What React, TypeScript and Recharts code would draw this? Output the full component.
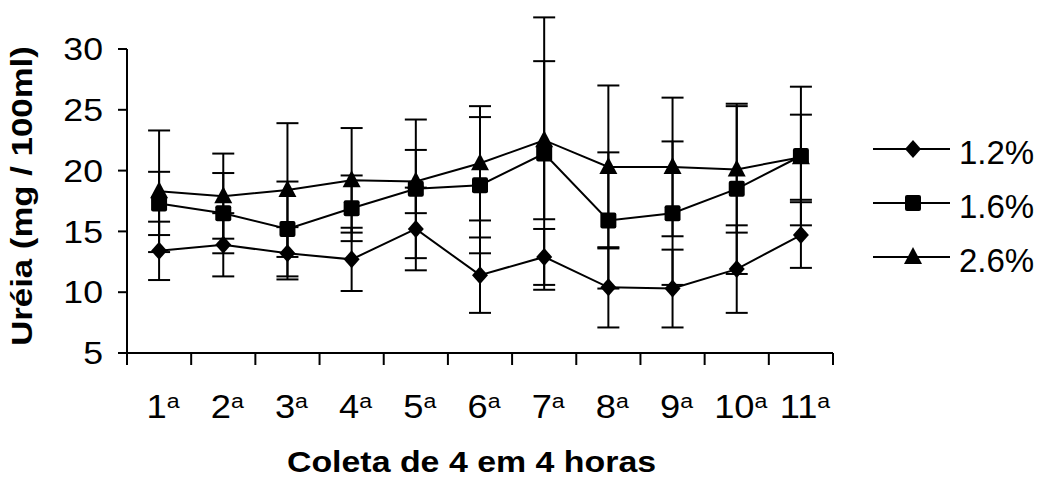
import { LineChart, Line, XAxis, YAxis, ErrorBar, Legend } from "recharts";

const FONT = '"Liberation Sans", Arial, sans-serif';

// coleta (ordinal, drawn as 1ª, 2ª ...)
const CATEGORIES = ["1", "2", "3", "4", "5", "6", "7", "8", "9", "10", "11"];
const POSITIONS = [1, 2, 3, 4, 5, 6, 7, 8, 9, 10, 11];
const X_BOUNDS = [0.5, 1.5, 2.5, 3.5, 4.5, 5.5, 6.5, 7.5, 8.5, 9.5, 10.5, 11.5];
const Y_TICKS = [5, 10, 15, 20, 25, 30];

const SERIES_NAMES = ["1.2%", "1.6%", "2.6%"];
const SHAPES = ["diamond", "square", "triangle"];

// ureia mg/100ml, mean and +/- error
const UREA_12 = [13.4, 13.9, 13.2, 12.7, 15.2, 11.4, 12.9, 10.4, 10.3, 11.9, 14.7];
const ERR_12 = [2.4, 2.6, 2.15, 2.6, 3.4, 3.1, 2.3, 3.3, 3.2, 3.6, 2.7];
const UREA_16 = [17.3, 16.5, 15.2, 16.9, 18.5, 18.8, 21.4, 15.9, 16.5, 18.5, 21.2];
const ERR_16 = [2.6, 3.3, 3.9, 2.7, 5.7, 5.6, 11.2, 5.6, 5.9, 7.0, 5.7];
const UREA_26 = [18.3, 17.9, 18.4, 19.2, 19.1, 20.6, 22.5, 20.3, 20.3, 20.1, 21.1];
const ERR_26 = [5.0, 3.5, 5.5, 4.3, 2.6, 4.7, 6.5, 6.7, 5.7, 5.2, 3.5];

const data = CATEGORIES.map((c, i) => ({
  pos: POSITIONS[i],
  label: c,
  s12: UREA_12[i],
  e12: ERR_12[i],
  s16: UREA_16[i],
  e16: ERR_16[i],
  s26: UREA_26[i],
  e26: ERR_26[i],
}));

function Marker({ shape, cx, cy }: { shape: string; cx: number; cy: number }) {
  if (cx == null || cy == null) return null;
  if (shape === "diamond") {
    return <path d={`M${cx},${cy - 9}L${cx + 8},${cy}L${cx},${cy + 9}L${cx - 8},${cy}Z`} fill="#000" />;
  }
  if (shape === "square") {
    return <rect x={cx - 8} y={cy - 8} width={16} height={16} rx={2} fill="#000" />;
  }
  return <path d={`M${cx},${cy - 10}L${cx + 9},${cy + 7}L${cx - 9},${cy + 7}Z`} fill="#000" />;
}

const dotFor = (shape: string) => (p: any) => <Marker key={`${shape}-${p.index}`} shape={shape} cx={p.cx} cy={p.cy} />;

function YTick({ x, y, payload }: any) {
  return (
    <g transform={`translate(${x},${y})`}>
      <text transform="scale(1.15,1)" textAnchor="end" dy="0.36em" fontSize={31} fontFamily={FONT} fill="#000">
        {payload.value}
      </text>
    </g>
  );
}

function XLabelTick({ x, y, payload }: any) {
  const label = CATEGORIES[POSITIONS.indexOf(payload.value)];
  return (
    <g transform={`translate(${x + 4},${y + 51})`}>
      <text transform="scale(1.1,1)" textAnchor="middle" fontSize={33} fontFamily={FONT} fill="#000">
        <tspan>{label}</tspan>
        <tspan fontSize={21} dy={-10}>a</tspan>
      </text>
    </g>
  );
}

function XTitle({ viewBox }: any) {
  const vb = viewBox ?? { x: 127, y: 367, width: 706, height: 112 };
  return (
    <g transform={`translate(${vb.x + vb.width / 2 - 8.5},${vb.y + vb.height - 7})`}>
      <text transform="scale(1.13,1)" textAnchor="middle" fontSize={30} fontWeight="bold" fontFamily={FONT} fill="#000">
        Coleta de 4 em 4 horas
      </text>
    </g>
  );
}

function YTitle({ viewBox }: any) {
  const vb = viewBox ?? { x: 0, y: 49, width: 127, height: 304 };
  return (
    <g transform={`translate(32,${vb.y + vb.height / 2 - 5}) rotate(-90) scale(1.2,1)`}>
      <text textAnchor="middle" fontSize={29} fontWeight="bold" fontFamily={FONT} fill="#000">
        Uréia (mg / 100ml)
      </text>
    </g>
  );
}

function LegendBox() {
  return (
    <div style={{ fontFamily: FONT, fontSize: 33, color: "#000" }}>
      {SERIES_NAMES.map((name, i) => (
        <div key={name} style={{ display: "flex", alignItems: "center", height: 54 }}>
          <svg width={86} height={54}>
            <line x1={0} x2={77} y1={27} y2={27} stroke="#000" strokeWidth={2} />
            <Marker shape={SHAPES[i]} cx={40} cy={27} />
          </svg>
          <span style={{ paddingTop: 8 }}>{name}</span>
        </div>
      ))}
    </div>
  );
}

export default function App() {
  return (
    <div style={{ position: "fixed", left: 0, top: 0, background: "#fff" }}>
      <LineChart width={1042} height={479} data={data} margin={{ top: 49, right: 209, bottom: 0, left: 0 }}>
        <XAxis
          type="number"
          dataKey="pos"
          domain={[0.5, 11.5]}
          ticks={X_BOUNDS}
          allowDataOverflow
          height={14}
          tickSize={12}
          tickFormatter={() => ""}
          axisLine={{ stroke: "#000", strokeWidth: 2 }}
          tickLine={{ stroke: "#000", strokeWidth: 2 }}
        />
        <XAxis
          xAxisId="lbl"
          type="number"
          dataKey="pos"
          domain={[0.5, 11.5]}
          ticks={POSITIONS}
          allowDataOverflow
          height={112}
          axisLine={false}
          tickLine={false}
          tickSize={0}
          tickMargin={0}
          tick={<XLabelTick />}
          label={<XTitle />}
        />
        <YAxis
          type="number"
          domain={[5, 30]}
          ticks={Y_TICKS}
          allowDataOverflow
          width={127}
          tickSize={9}
          tickMargin={15}
          tick={<YTick />}
          axisLine={{ stroke: "#000", strokeWidth: 2 }}
          tickLine={{ stroke: "#000", strokeWidth: 2 }}
          label={<YTitle />}
        />
        <Legend
          layout="vertical"
          align="center"
          verticalAlign="middle"
          content={() => <LegendBox />}
          wrapperStyle={{ left: 873, top: 122, width: 170 }}
        />
        <Line dataKey="s12" name="1.2%" stroke="#000" strokeWidth={2} dot={dotFor("diamond")} isAnimationActive={false}>
          <ErrorBar dataKey="e12" width={11} stroke="#000" strokeWidth={2} isAnimationActive={false} />
        </Line>
        <Line dataKey="s16" name="1.6%" stroke="#000" strokeWidth={2} dot={dotFor("square")} isAnimationActive={false}>
          <ErrorBar dataKey="e16" width={11} stroke="#000" strokeWidth={2} isAnimationActive={false} />
        </Line>
        <Line dataKey="s26" name="2.6%" stroke="#000" strokeWidth={2} dot={dotFor("triangle")} isAnimationActive={false}>
          <ErrorBar dataKey="e26" width={11} stroke="#000" strokeWidth={2} isAnimationActive={false} />
        </Line>
      </LineChart>
    </div>
  );
}
